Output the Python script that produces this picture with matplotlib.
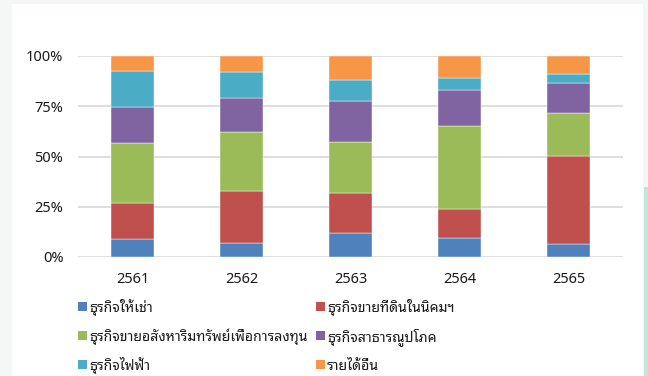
import matplotlib
matplotlib.use("Agg")
import matplotlib.pyplot as plt
from matplotlib.patches import Rectangle

years = ["2561", "2562", "2563", "2564", "2565"]
series_names = ["ธุรกิจให้เช่า", "ธุรกิจขายที่ดินในนิคมฯ",
                "ธุรกิจขายอสังหาริมทรัพย์เพื่อการลงทุน", "ธุรกิจสาธารณูปโภค",
                "ธุรกิจไฟฟ้า", "รายได้อื่น"]
rent = [8.8, 6.8, 12.1, 9.6, 6.6]
land = [18.1, 26.2, 19.9, 14.3, 43.4]
property_sale = [29.9, 29.1, 25.3, 41.2, 21.7]
utilities = [17.9, 16.8, 20.1, 17.9, 14.7]
power = [17.6, 13.3, 10.9, 6.3, 4.6]
other = [7.7, 7.8, 11.7, 10.7, 9.0]
yticks = [0, 25, 50, 75, 100]
ytick_labels = ["0%", "25%", "50%", "75%", "100%"]
colors = ["#4F81BD", "#C0504D", "#9BBB59", "#8064A2", "#4BACC6", "#F79646"]

plt.rcParams['font.family'] = ['Noto Sans Thai Looped', 'Noto Sans', 'DejaVu Sans']

W, H = 648, 376
fig = plt.figure(figsize=(W/100, H/100), dpi=100)
fig.patch.set_facecolor("#F5F7F7")
# white panel and teal strip (page background)
fig.add_artist(Rectangle((12/W, 0), (643-12)/W, (H-4)/H, transform=fig.transFigure,
                         facecolor="white", edgecolor="none", zorder=0))
fig.add_artist(Rectangle((644/W, 0), 4/W, (H-187)/H, transform=fig.transFigure,
                         facecolor="#C3E5DF", edgecolor="none", zorder=0))

ax = fig.add_axes([78/W, 1-257/H, 545/W, 201/H])
ax.set_facecolor("none")
data = [rent, land, property_sale, utilities, power, other]
x = list(range(len(years)))
bottom = [0]*len(years)
for vals, c, n in zip(data, colors, series_names):
    ax.bar(x, vals, 0.4, bottom=bottom, color=c, label=n, edgecolor="white", linewidth=0.3)
    bottom = [bb+v for bb, v in zip(bottom, vals)]
ax.set_xlim(-0.5, 4.5)
ax.set_ylim(0, 100)
ax.set_yticks(yticks)
ax.set_yticklabels(ytick_labels)
ax.set_xticks(x)
ax.set_xticklabels(years)
for lab in ax.get_xticklabels() + ax.get_yticklabels():
    lab.set_fontfamily("Noto Sans")
ax.tick_params(length=0, labelsize=10.5, colors="#1A1A1A")
ax.tick_params(axis='y', pad=10.5)
ax.tick_params(axis='x', pad=11)
for s in ax.spines.values():
    s.set_visible(False)
ax.yaxis.grid(True, color="#D9D9D9", linewidth=1.2)
ax.set_axisbelow(True)

# legend, row-wise in two columns
col_marker_x = [78, 316]
row_center_y = [306.5, 335.5, 364.5]
msize = 9
for i, (n, c) in enumerate(zip(series_names, colors)):
    r, col = divmod(i, 2)
    mx = col_marker_x[col]
    cy = row_center_y[r]
    fig.add_artist(Rectangle((mx/W, 1-(cy+msize/2)/H), msize/W, msize/H,
                             transform=fig.transFigure, facecolor=c, edgecolor="none"))
    fig.text((mx+msize+2)/W, 1-(cy+msize/2+1)/H, n, fontsize=10.1, color="#1A1A1A",
             va="baseline", ha="left")

fig.savefig("out.png", dpi=100)
